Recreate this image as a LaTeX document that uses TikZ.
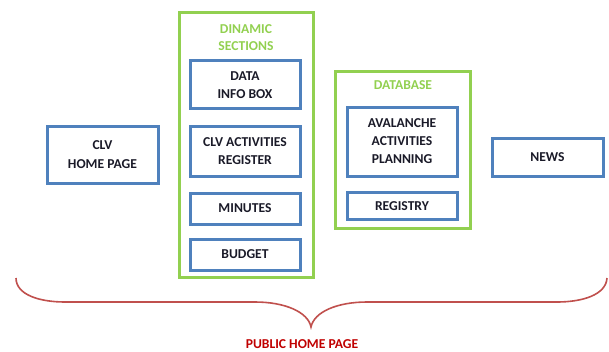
\documentclass[tikz,border=0pt]{standalone}
\usepackage{fontspec}
\setmainfont{Carlito}
\definecolor{boxblue}{HTML}{4F81BD}
\definecolor{boxgreen}{HTML}{92D050}
\definecolor{bracered}{HTML}{C0504D}
\definecolor{textred}{HTML}{C00000}
\definecolor{textdark}{HTML}{1A1A28}
\tikzset{
  bluebox/.style={draw=boxblue, line width=3pt, inner sep=0pt},
  greenbox/.style={draw=boxgreen, line width=3pt, inner sep=0pt},
  lbl/.style={font=\fontsize{13.6}{18.5}\selectfont\bfseries, text=textdark, align=center},
  gtitle/.style={font=\fontsize{13.6}{17}\selectfont\bfseries, text=boxgreen, align=center},
}
\begin{document}
\begin{tikzpicture}[x=1pt,y=-1pt]
\useasboundingbox (0,0) rectangle (609,351);
% containers
\draw[greenbox] (179,12) rectangle (313,277);
\draw[greenbox] (335,71) rectangle (470,228);
\node[gtitle] (dyn) at (246,37.5) {DINAMIC\\SECTIONS};
\node[gtitle] (db) at (403,85) {DATABASE};
% boxes
\draw[bluebox] (47,126) rectangle (158,183);
\node[lbl] (home) at (102.5,154.5) {CLV\\HOME PAGE};
\draw[bluebox] (190,60) rectangle (300,108);
\node[lbl] (data) at (245,85) {DATA\\INFO BOX};
\draw[bluebox] (190,126) rectangle (300,176);
\node[lbl] (act) at (245,151) {CLV ACTIVITIES\\REGISTER};
\draw[bluebox] (190,193) rectangle (300,224);
\node[lbl] (min) at (245,208.5) {MINUTES};
\draw[bluebox] (190,239) rectangle (300,270);
\node[lbl] (bud) at (245,254.5) {BUDGET};
\draw[bluebox] (347,107) rectangle (457,176);
\node[lbl, font=\fontsize{13.6}{18}\selectfont\bfseries] (aval) at (402,141) {AVALANCHE\\ACTIVITIES\\PLANNING};
\draw[bluebox] (347,192) rectangle (457,219);
\node[lbl] (reg) at (402,206) {REGISTRY};
\draw[bluebox] (492,138) rectangle (603,176);
\node[lbl] (news) at (547.5,157) {NEWS};
% brace
\draw[bracered, line width=1.6pt]
  (16,278) .. controls (16,295) and (40,302) .. (65,302)
  -- (255,302) .. controls (285,302) and (308,312) .. (311,327)
  .. controls (314,312) and (337,302) .. (367,302)
  -- (557,302) .. controls (582,302) and (606,295) .. (607,278);
\node[font=\fontsize{13.6}{15}\selectfont\bfseries, text=textred, inner sep=1pt] (pub) at (302,344) {PUBLIC HOME PAGE};
\end{tikzpicture}
\end{document}
